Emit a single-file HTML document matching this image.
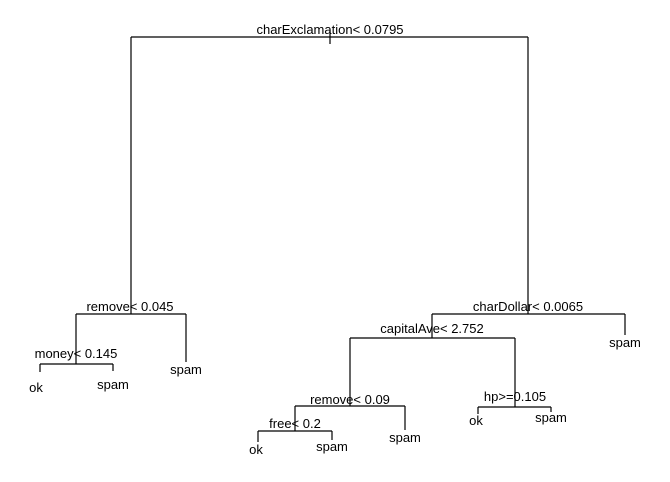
<!DOCTYPE html>
<html><head><meta charset="utf-8"><style>
body{margin:0;background:#fff}
svg text{font-family:"Liberation Sans",Arial,sans-serif;font-size:13px;fill:#000}
</style></head><body>
<svg width="670" height="477">
<g stroke="#000" stroke-width="1.2" fill="none">
<path d="M330,30V44 M131,37H528 M131,37V314 M528,37V314"/>
<path d="M76,314H186 M76,314V364 M186,314V362 M40,364H113 M40,364V372 M113,364V371"/>
<path d="M432,314H625 M625,314V335 M432,314V338 M350,338H515 M350,338V406 M515,338V407"/>
<path d="M295,406H405 M405,406V430 M295,406V431 M258,431H332 M258,431V442 M332,431V440"/>
<path d="M478,407H551 M478,407V414 M551,407V412"/>
</g>
<g text-anchor="middle">
<text x="330" y="34">charExclamation&lt; 0.0795</text>
<text x="130" y="311">remove&lt; 0.045</text>
<text x="76" y="358">money&lt; 0.145</text>
<text x="36" y="392">ok</text>
<text x="113" y="389">spam</text>
<text x="186" y="374">spam</text>
<text x="528" y="311">charDollar&lt; 0.0065</text>
<text x="625" y="347">spam</text>
<text x="432" y="333">capitalAve&lt; 2.752</text>
<text x="350" y="404">remove&lt; 0.09</text>
<text x="405" y="442">spam</text>
<text x="295" y="428">free&lt; 0.2</text>
<text x="256" y="454">ok</text>
<text x="332" y="451">spam</text>
<text x="515" y="401">hp&gt;=0.105</text>
<text x="476" y="425">ok</text>
<text x="551" y="422">spam</text>
</g>
</svg>
</body></html>
